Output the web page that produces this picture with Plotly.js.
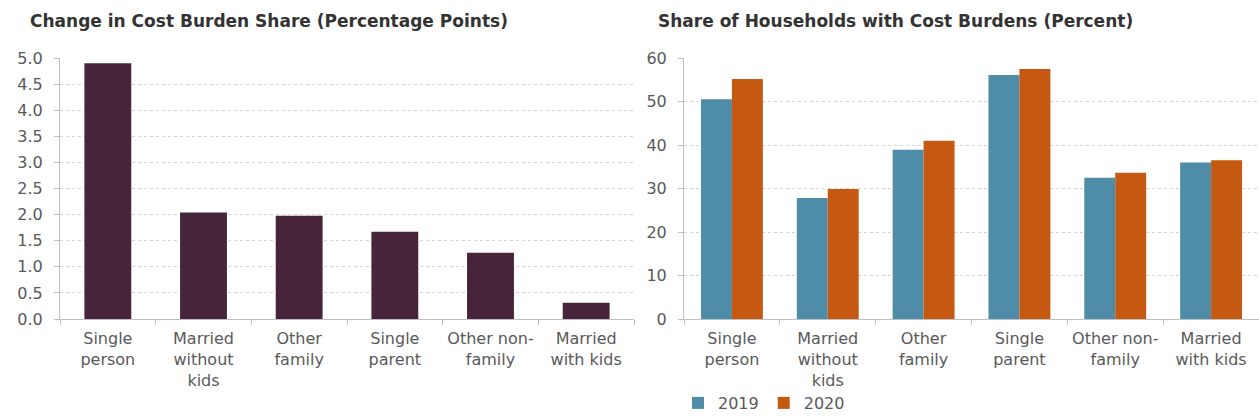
<!DOCTYPE html>
<html>
<head>
<meta charset="utf-8">
<script src="https://cdn.plot.ly/plotly-3.0.1.min.js"></script>
<style>
  html, body { margin: 0; padding: 0; background: #ffffff; }
  #chart { width: 1259px; height: 420px; }
</style>
</head>
<body>
<div id="chart"></div>
<script>
// ---- Data ----
const categories = ["Single<br>person", "Married<br>without<br>kids", "Other<br>family", "Single<br>parent", "Other non-<br>family", "Married<br>with kids"];
const changeValues = [4.9, 2.04, 1.98, 1.67, 1.27, 0.31];
const share2019 = [50.5, 27.8, 38.9, 56.1, 32.5, 36.0];
const share2020 = [55.2, 29.9, 41.0, 57.5, 33.6, 36.5];
const seriesNames = ["2019", "2020"];
const leftTitle = "Change in Cost Burden Share (Percentage Points)";
const rightTitle = "Share of Households with Cost Burdens (Percent)";

const W = 1259, H = 420;
const FONT = "DejaVu Sans, Liberation Sans, Arial, sans-serif";
const tickColor = "#595959";
const gridColor = "#d4d4d4";
const axisLineColor = "#bfbfbf";

const traces = [
  {
    type: "bar", x: categories, y: changeValues, xaxis: "x", yaxis: "y",
    marker: { color: "#472437" }, width: 0.49, showlegend: false, hoverinfo: "x+y"
  },
  {
    type: "bar", name: seriesNames[0], x: categories, y: share2019, xaxis: "x2", yaxis: "y2",
    marker: { color: "#4E8CA8" }, width: 0.323, offset: -0.323
  },
  {
    type: "bar", name: seriesNames[1], x: categories, y: share2020, xaxis: "x2", yaxis: "y2",
    marker: { color: "#C65911" }, width: 0.323, offset: 0
  }
];

const yDom = [(H - 326) / H, (H - 59.3) / H];

function xAxis(domain, anchor) {
  return {
    domain: domain, anchor: anchor, type: "category", range: [-0.5, 5.5],
    showline: true, linecolor: axisLineColor, linewidth: 1,
    ticks: "outside", tickson: "boundaries", ticklen: 5, tickcolor: axisLineColor,
    tickfont: { family: FONT, size: 16, color: tickColor },
    ticklabelstandoff: 5,
    showgrid: false, zeroline: false, fixedrange: true
  };
}
function yAxis(domain, anchor, range, dtick, fmt) {
  return {
    domain: domain, anchor: anchor, range: range, dtick: dtick, tick0: 0, tickformat: fmt,
    showline: true, linecolor: axisLineColor, linewidth: 1,
    ticks: "outside", ticklen: 5, tickcolor: axisLineColor,
    tickfont: { family: FONT, size: 16, color: tickColor },
    showgrid: true, gridcolor: gridColor, griddash: "dot", gridwidth: 1,
    zeroline: false, fixedrange: true, ticklabelstandoff: 8
  };
}

const layout = {
  width: W, height: H,
  margin: { l: 0, r: 0, t: 0, b: 0 },
  paper_bgcolor: "#ffffff", plot_bgcolor: "#ffffff",
  barmode: "overlay",
  font: { family: FONT, color: tickColor },
  xaxis: xAxis([60 / W, 634 / W], "y"),
  yaxis: yAxis(yDom, "x", [0, 5], 0.5, ".1f"),
  xaxis2: xAxis([684 / W, 1], "y2"),
  yaxis2: yAxis(yDom, "x2", [0, 60], 10, "d"),
  showlegend: true,
  legend: {
    orientation: "h", x: 678 / W, xanchor: "left", y: (H - 412) / H, yanchor: "middle",
    font: { family: FONT, size: 16, color: tickColor }, bgcolor: "rgba(0,0,0,0)",
    itemwidth: 30, tracegroupgap: 0
  },
  annotations: [
    {
      text: "<b>" + leftTitle + "</b>", xref: "paper", yref: "paper",
      x: 28 / W, y: (H - 21) / H, xanchor: "left", yanchor: "middle", showarrow: false,
      font: { family: FONT, size: 17, color: "#333333" }
    },
    {
      text: "<b>" + rightTitle + "</b>", xref: "paper", yref: "paper",
      x: 656 / W, y: (H - 21) / H, xanchor: "left", yanchor: "middle", showarrow: false,
      font: { family: FONT, size: 17, color: "#333333" }
    }
  ]
};

Plotly.newPlot("chart", traces, layout, { displayModeBar: false, staticPlot: true });
</script>
</body>
</html>
